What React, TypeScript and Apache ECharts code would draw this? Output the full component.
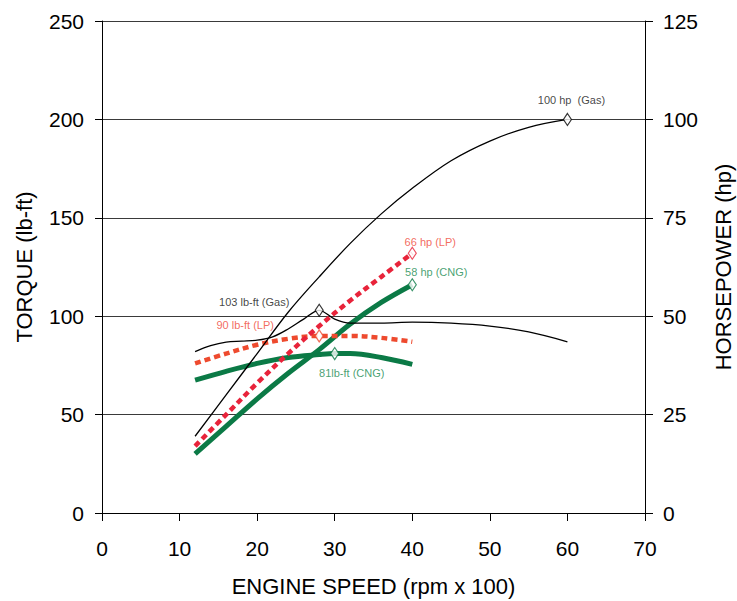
import React, { useEffect, useRef } from "react";
import * as echarts from "echarts";

// Engine speed (rpm x 100) sample points
const gasTorqueX = [12, 14, 16, 18, 20, 22, 24, 26, 28, 30, 32, 36, 40, 45, 50, 55, 60];
const gasTorque = [82, 85, 86.8, 87.3, 87.8, 89.5, 93.5, 98.5, 103, 98.5, 96.5, 96.5, 97, 96.5, 95, 92, 87];

const gasHpX = [12, 16, 20, 24, 28, 32, 36, 40, 45, 50, 55, 60];
const gasHp = [19.5, 30, 40.5, 51, 60, 68.5, 76, 82.5, 89.5, 94.5, 98, 100];

const altX = [12, 16, 20, 24, 28, 32, 36, 40];
const lpTorque = [76, 81, 85.5, 88.5, 90, 90, 89, 87];
const lpHp = [17, 25, 33, 40.5, 47.5, 54, 60, 66];

const cngTorqueX = [12, 16, 20, 24, 28, 30, 32, 36, 40];
const cngTorque = [67.5, 72, 76, 79, 80.5, 81, 81, 79, 75.5];
const cngHp = [15, 22, 29, 35.5, 41.5, 48, 53.5, 58];

// Peak markers
const peakNames = ["100 hp  (Gas)", "103 lb-ft (Gas)", "90 lb-ft (LP)", "66 hp (LP)", "58 hp (CNG)", "81lb-ft (CNG)"];
const peakX = [60, 28, 28, 40, 40, 30];
const peakY = [100, 103, 90, 66, 58, 81];
const peakAxis = [1, 0, 0, 1, 1, 0];

const xTicks = { min: 0, max: 70, interval: 10 };
const torqueTicks = { min: 0, max: 250, interval: 50 };
const hpTicks = { min: 0, max: 125, interval: 25 };

const FONT = "'Liberation Sans', Arial, Helvetica, sans-serif";
const BLACK = "#000000";
const RED_HP = "#e8233a";
const RED_TQ = "#ee4a2e";
const RED_TXT = "#ef4535";
const GREEN = "#0b7a46";
const GREEN_TXT = "#15894e";

const zip = (xs: number[], ys: number[]) => ys.map((y, i) => [xs[i], y]);

const peakStyle = [
  { color: BLACK, text: "#111", offset: [4, -19] },
  { color: BLACK, text: "#111", offset: [-65, -8] },
  { color: RED_TQ, text: RED_TXT, offset: [-74, -11] },
  { color: RED_HP, text: RED_TXT, offset: [18, -11] },
  { color: GREEN, text: GREEN_TXT, offset: [24, -13] },
  { color: GREEN, text: GREEN_TXT, offset: [17, 19] },
];

export default function App() {
  const ref = useRef<HTMLDivElement>(null);
  useEffect(() => {
    if (!ref.current) return;
    const chart = echarts.init(ref.current, undefined, { renderer: "svg" });

    const lineSeries = (
      name: string,
      data: number[][],
      yAxisIndex: number,
      color: string,
      width: number,
      type: any,
      z: number
    ) => ({
      name,
      type: "line",
      yAxisIndex,
      data,
      smooth: 0.35,
      symbol: "none",
      z,
      lineStyle: { color, width, type, cap: "butt" },
    });

    const markerSeries = [0, 1].map((axis) => ({
      type: "scatter",
      yAxisIndex: axis,
      z: 10,
      symbol: "diamond",
      symbolSize: [8, 12],
      data: peakNames
        .map((n, i) => ({ n, i }))
        .filter(({ i }) => peakAxis[i] === axis)
        .map(({ n, i }) => ({
          name: n,
          value: [peakX[i], peakY[i]],
          itemStyle: { color: "#ffffff", borderColor: peakStyle[i].color, borderWidth: 1.2 },
          label: {
            show: true,
            formatter: n,
            position: "inside",
            offset: peakStyle[i].offset,
            fontSize: 11,
            fontFamily: FONT,
            color: peakStyle[i].text,
          },
        })),
    }));

    chart.setOption({
      animation: false,
      textStyle: { fontFamily: FONT },
      grid: { left: 102, right: 92, top: 21, bottom: 88, outerBoundsMode: "none", containLabel: false },
      xAxis: {
        type: "value",
        ...xTicks,
        name: "ENGINE SPEED (rpm x 100)",
        nameLocation: "middle",
        nameGap: 62,
        nameTextStyle: { fontSize: 22, color: BLACK, fontFamily: FONT },
        axisLine: { show: true, lineStyle: { color: BLACK, width: 1 } },
        axisTick: { show: true, inside: false, length: 8, lineStyle: { color: BLACK } },
        axisLabel: { fontSize: 21, color: BLACK, margin: 25, fontFamily: FONT },
        splitLine: { show: false },
      },
      yAxis: [
        {
          type: "value",
          position: "left",
          ...torqueTicks,
          name: "TORQUE (lb-ft)",
          nameLocation: "middle",
          nameRotate: 90,
          nameGap: 67,
          nameTextStyle: { fontSize: 22, color: BLACK, fontFamily: FONT },
          axisLine: { show: true, lineStyle: { color: BLACK, width: 1 } },
          axisTick: { show: true, inside: false, length: 7, lineStyle: { color: BLACK } },
          axisLabel: { fontSize: 21, color: BLACK, margin: 18, fontFamily: FONT },
          splitLine: { show: true, lineStyle: { color: "#3a3a3a", width: 1 } },
        },
        {
          type: "value",
          position: "right",
          ...hpTicks,
          name: "HORSEPOWER (hp)",
          nameLocation: "middle",
          nameRotate: 90,
          nameGap: 67,
          nameTextStyle: { fontSize: 22, color: BLACK, fontFamily: FONT },
          axisLine: { show: true, lineStyle: { color: BLACK, width: 1 } },
          axisTick: { show: true, inside: false, length: 8, lineStyle: { color: BLACK } },
          axisLabel: { fontSize: 21, color: BLACK, margin: 18, fontFamily: FONT },
          splitLine: { show: false },
        },
      ],
      series: [
        lineSeries("CNG Torque", zip(cngTorqueX, cngTorque), 0, GREEN, 5, "solid", 3),
        lineSeries("CNG HP", zip(altX, cngHp), 1, GREEN, 5, "solid", 3),
        lineSeries("LP Torque", zip(altX, lpTorque), 0, RED_TQ, 4.5, [6, 4], 4),
        lineSeries("LP HP", zip(altX, lpHp), 1, RED_HP, 4.5, [6, 4], 4),
        lineSeries("Gas Torque", zip(gasTorqueX, gasTorque), 0, BLACK, 1.3, "solid", 5),
        lineSeries("Gas HP", zip(gasHpX, gasHp), 1, BLACK, 1.3, "solid", 5),
        ...markerSeries,
      ],
    });
    return () => chart.dispose();
  }, []);
  return (
    <div
      ref={ref}
      style={{ position: "fixed", left: 0, top: 0, width: 737, height: 601, background: "#fff" }}
    />
  );
}
